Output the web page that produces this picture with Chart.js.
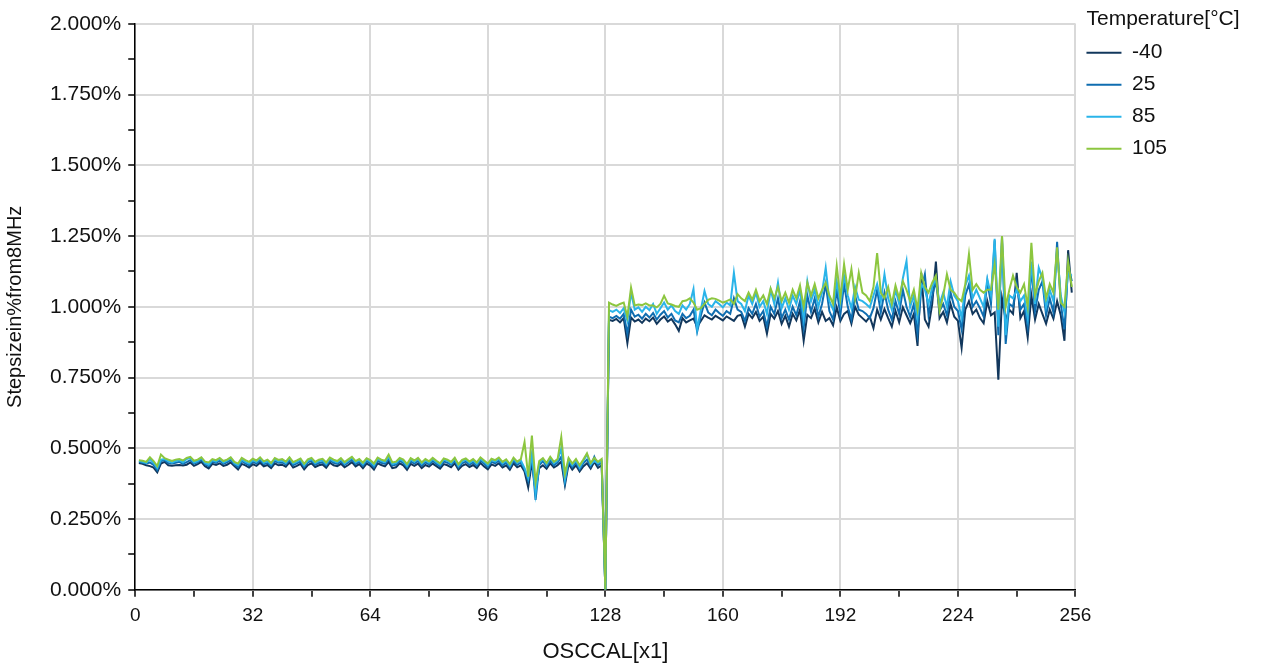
<!DOCTYPE html>
<html>
<head>
<meta charset="utf-8">
<title>OSCCAL step size</title>
<script src="https://cdn.jsdelivr.net/npm/chart.js@4.4.0/dist/chart.umd.min.js"></script>
<style>
  html, body { margin: 0; padding: 0; background: #fff; }
  #wrap { width: 1267px; height: 665px; }
</style>
</head>
<body>
<div id="wrap"><canvas id="chart" width="1267" height="665"></canvas></div>
<script>
'use strict';

const temperatures = ['-40', '25', '85', '105'];
const legendTitle = 'Temperature[°C]';
const lineColors = ['#12375c', '#0f6db0', '#2ab4e9', '#8cc63f'];

const xTickLabels = [0, 32, 64, 96, 128, 160, 192, 224, 256];
const yTickLabels = [0, 0.25, 0.5, 0.75, 1, 1.25, 1.5, 1.75, 2];

// step size in % from 8MHz, OSCCAL 1..127 (low range)
const lowM40 = [
  0.448, 0.445, 0.440, 0.437, 0.432, 0.415, 0.446, 0.452, 0.440, 0.438,
  0.440, 0.441, 0.439, 0.442, 0.450, 0.438, 0.444, 0.452, 0.437, 0.429,
  0.445, 0.441, 0.447, 0.438, 0.442, 0.450, 0.437, 0.425, 0.445, 0.440,
  0.432, 0.444, 0.438, 0.449, 0.436, 0.441, 0.430, 0.447, 0.440, 0.442,
  0.435, 0.450, 0.432, 0.438, 0.445, 0.426, 0.441, 0.447, 0.434, 0.440,
  0.443, 0.431, 0.449, 0.440, 0.437, 0.445, 0.433, 0.441, 0.451, 0.436,
  0.444, 0.430, 0.446, 0.439, 0.425, 0.447, 0.441, 0.436, 0.452, 0.430,
  0.433, 0.447, 0.440, 0.424, 0.445, 0.438, 0.446, 0.430, 0.441, 0.435,
  0.446, 0.437, 0.428, 0.444, 0.440, 0.433, 0.447, 0.425, 0.438, 0.444,
  0.434, 0.441, 0.430, 0.448, 0.436, 0.426, 0.443, 0.438, 0.447, 0.432,
  0.440, 0.424, 0.447, 0.433, 0.440, 0.418, 0.362, 0.450, 0.350, 0.430,
  0.440, 0.428, 0.447, 0.432, 0.440, 0.453, 0.370, 0.445, 0.425, 0.440,
  0.418, 0.436, 0.447, 0.428, 0.452, 0.431, 0.440
];
const low25 = [
  0.452, 0.449, 0.446, 0.450, 0.441, 0.423, 0.455, 0.458, 0.447, 0.446,
  0.449, 0.452, 0.445, 0.451, 0.458, 0.446, 0.450, 0.460, 0.444, 0.437,
  0.452, 0.448, 0.456, 0.445, 0.450, 0.458, 0.443, 0.433, 0.455, 0.447,
  0.440, 0.452, 0.446, 0.457, 0.444, 0.448, 0.437, 0.455, 0.449, 0.450,
  0.443, 0.458, 0.440, 0.447, 0.453, 0.434, 0.450, 0.456, 0.442, 0.448,
  0.451, 0.439, 0.457, 0.449, 0.445, 0.454, 0.441, 0.450, 0.460, 0.444,
  0.452, 0.438, 0.455, 0.447, 0.433, 0.456, 0.449, 0.445, 0.462, 0.439,
  0.442, 0.456, 0.448, 0.432, 0.454, 0.446, 0.455, 0.439, 0.450, 0.443,
  0.455, 0.445, 0.436, 0.453, 0.449, 0.441, 0.456, 0.432, 0.447, 0.453,
  0.442, 0.450, 0.438, 0.457, 0.445, 0.434, 0.452, 0.447, 0.456, 0.440,
  0.449, 0.432, 0.456, 0.441, 0.450, 0.425, 0.385, 0.470, 0.318, 0.440,
  0.455, 0.436, 0.458, 0.440, 0.450, 0.470, 0.380, 0.455, 0.433, 0.450,
  0.425, 0.447, 0.460, 0.436, 0.470, 0.440, 0.450
];
const low85 = [
  0.456, 0.452, 0.448, 0.462, 0.448, 0.430, 0.460, 0.462, 0.455, 0.449,
  0.455, 0.458, 0.450, 0.462, 0.466, 0.450, 0.455, 0.466, 0.448, 0.442,
  0.458, 0.453, 0.463, 0.450, 0.456, 0.466, 0.447, 0.440, 0.460, 0.452,
  0.446, 0.458, 0.452, 0.465, 0.449, 0.455, 0.443, 0.462, 0.454, 0.457,
  0.448, 0.465, 0.446, 0.452, 0.460, 0.440, 0.456, 0.462, 0.447, 0.455,
  0.458, 0.445, 0.463, 0.455, 0.450, 0.461, 0.446, 0.456, 0.467, 0.450,
  0.458, 0.444, 0.461, 0.453, 0.440, 0.463, 0.455, 0.451, 0.470, 0.445,
  0.448, 0.462, 0.455, 0.438, 0.461, 0.452, 0.462, 0.445, 0.457, 0.449,
  0.462, 0.451, 0.442, 0.460, 0.456, 0.447, 0.463, 0.438, 0.454, 0.460,
  0.448, 0.457, 0.445, 0.464, 0.452, 0.440, 0.459, 0.453, 0.463, 0.447,
  0.456, 0.438, 0.463, 0.448, 0.457, 0.430, 0.395, 0.480, 0.340, 0.448,
  0.462, 0.443, 0.466, 0.447, 0.457, 0.500, 0.390, 0.462, 0.440, 0.457,
  0.432, 0.455, 0.478, 0.442, 0.455, 0.447, 0.456
];
const low105 = [
  0.458, 0.456, 0.452, 0.468, 0.455, 0.437, 0.478, 0.465, 0.460, 0.455,
  0.460, 0.462, 0.457, 0.466, 0.470, 0.456, 0.460, 0.468, 0.453, 0.450,
  0.462, 0.458, 0.466, 0.455, 0.460, 0.468, 0.452, 0.446, 0.466, 0.458,
  0.452, 0.463, 0.457, 0.468, 0.454, 0.460, 0.448, 0.466, 0.459, 0.462,
  0.453, 0.468, 0.451, 0.457, 0.464, 0.445, 0.461, 0.466, 0.452, 0.460,
  0.463, 0.450, 0.467, 0.460, 0.455, 0.465, 0.451, 0.461, 0.470, 0.455,
  0.462, 0.449, 0.465, 0.458, 0.446, 0.467, 0.460, 0.456, 0.478, 0.450,
  0.453, 0.466, 0.460, 0.444, 0.465, 0.457, 0.466, 0.450, 0.462, 0.454,
  0.466, 0.456, 0.447, 0.464, 0.460, 0.452, 0.467, 0.444, 0.459, 0.464,
  0.453, 0.462, 0.450, 0.468, 0.457, 0.446, 0.463, 0.458, 0.467, 0.452,
  0.461, 0.444, 0.467, 0.453, 0.462, 0.522, 0.400, 0.545, 0.380, 0.455,
  0.465, 0.448, 0.470, 0.452, 0.462, 0.540, 0.410, 0.466, 0.446, 0.462,
  0.440, 0.460, 0.482, 0.448, 0.466, 0.452, 0.462
];

// OSCCAL 128: range switch, no step
const switchValue = 0;

// step size in % from 8MHz, OSCCAL 129..255 (high range)
const highM40 = [
  0.954, 0.950, 0.957, 0.945, 0.960, 0.872, 0.962, 0.948, 0.955, 0.943,
  0.958, 0.949, 0.962, 0.940, 0.955, 0.966, 0.948, 0.957, 0.938, 0.915,
  0.960, 0.945, 0.952, 0.958, 0.930, 0.950, 0.970, 0.962, 0.955, 0.968,
  0.960, 0.952, 0.966, 0.958, 0.950, 0.968, 0.972, 0.930, 0.975, 0.960,
  0.982, 0.950, 0.965, 0.905, 0.975, 0.958, 0.985, 0.940, 0.968, 0.930,
  0.975, 0.952, 0.990, 0.880, 0.972, 0.960, 0.993, 0.945, 0.982, 0.950,
  0.960, 0.935, 0.998, 0.950, 0.975, 0.985, 0.940, 1.000, 0.972, 0.960,
  0.948, 0.965, 0.925, 0.990, 0.955, 0.992, 0.960, 0.930, 0.985, 0.945,
  0.998, 0.970, 0.942, 0.975, 0.862, 1.120, 0.955, 0.930, 1.010, 1.160,
  0.960, 0.982, 0.945, 1.010, 0.965, 0.950, 0.855, 0.990, 1.020, 0.975,
  0.990, 0.960, 0.942, 1.020, 0.970, 0.980, 0.742, 1.030, 0.955, 0.990,
  0.975, 1.120, 0.960, 0.985, 0.892, 1.040, 0.955, 1.010, 0.975, 0.940,
  0.990, 0.958, 1.020, 0.970, 0.880, 1.200, 1.050
];
const high25 = [
  0.965, 0.960, 0.968, 0.958, 0.975, 0.905, 0.990, 0.965, 0.972, 0.958,
  0.975, 0.962, 0.978, 0.955, 0.972, 0.985, 0.962, 0.975, 0.952, 0.945,
  0.975, 0.960, 0.968, 0.990, 0.912, 0.968, 1.015, 0.980, 0.970, 0.990,
  0.978, 0.968, 0.985, 0.975, 1.030, 0.990, 0.982, 0.950, 0.995, 0.975,
  1.010, 0.965, 0.985, 0.930, 1.000, 0.975, 1.030, 0.960, 0.990, 0.955,
  1.000, 0.970, 1.020, 0.925, 1.040, 0.982, 1.030, 0.965, 1.010, 1.080,
  0.985, 0.955, 1.060, 0.972, 1.080, 1.000, 0.955, 1.040, 0.990, 0.985,
  0.975, 0.960, 0.995, 1.060, 0.980, 1.050, 0.990, 0.955, 1.020, 0.975,
  1.060, 1.000, 0.965, 1.010, 0.905, 1.060, 1.115, 0.970, 1.040, 1.090,
  0.986, 1.010, 0.970, 1.050, 1.000, 0.985, 0.920, 1.040, 1.080, 1.000,
  1.020, 0.995, 0.965, 1.090, 1.010, 1.235, 0.900, 1.250, 0.869, 1.010,
  1.000, 1.080, 0.990, 1.010, 0.930, 1.140, 0.985, 1.060, 1.090, 0.970,
  1.030, 0.980, 1.230, 1.010, 0.920, 1.150, 1.090
];
const high85 = [
  0.988, 0.982, 0.990, 0.978, 0.995, 0.950, 1.050, 0.990, 0.998, 0.982,
  1.000, 0.988, 1.010, 0.975, 0.995, 1.015, 0.990, 1.005, 0.985, 0.975,
  1.005, 0.990, 1.010, 1.063, 0.920, 0.990, 1.056, 1.010, 1.000, 1.020,
  1.010, 0.998, 1.015, 1.005, 1.120, 1.020, 1.010, 0.985, 1.040, 1.010,
  1.050, 1.000, 1.020, 0.975, 1.060, 1.010, 1.085, 0.995, 1.030, 0.990,
  1.040, 1.010, 1.060, 0.960, 1.090, 1.020, 1.060, 1.000, 1.050, 1.138,
  1.020, 0.990, 1.090, 1.010, 1.110, 1.040, 0.995, 1.070, 1.025, 1.020,
  1.010, 0.998, 1.040, 1.080, 1.020, 1.115, 1.030, 0.990, 1.060, 1.010,
  1.100, 1.162, 1.000, 1.040, 0.960, 1.080, 1.060, 1.010, 1.070, 1.100,
  1.010, 1.050, 1.000, 1.090, 1.040, 1.020, 0.960, 1.075, 1.110, 1.030,
  1.060, 1.030, 1.000, 1.098, 1.040, 1.240, 0.930, 1.230, 0.900, 1.040,
  1.030, 1.060, 1.020, 1.040, 0.960, 1.160, 1.010, 1.138, 1.100, 1.000,
  1.060, 1.020, 1.200, 1.040, 0.980, 1.120, 1.110
];
const high105 = [
  1.015, 1.008, 1.003, 1.010, 1.015, 0.965, 1.068, 1.005, 1.008, 1.006,
  1.012, 1.005, 1.005, 0.998, 1.010, 1.039, 1.012, 1.008, 1.003, 1.000,
  1.020, 1.022, 1.030, 1.015, 0.990, 0.995, 1.010, 1.025, 1.030, 1.028,
  1.022, 1.015, 1.020, 1.026, 1.010, 1.045, 1.030, 1.020, 1.050, 1.025,
  1.060, 1.020, 1.040, 1.010, 1.065, 1.030, 1.070, 1.020, 1.050, 1.015,
  1.060, 1.030, 1.075, 1.000, 1.085, 1.040, 1.080, 1.030, 1.060, 1.085,
  1.040, 1.010, 1.144, 1.030, 1.150, 1.060, 1.133, 1.030, 1.120, 1.050,
  1.040, 1.020, 1.070, 1.190, 1.050, 1.030, 1.070, 1.010, 1.075, 1.030,
  1.090, 1.060, 1.020, 1.060, 0.990, 1.120, 1.070, 1.050, 1.085, 1.110,
  0.986, 1.040, 1.115, 1.060, 1.050, 1.030, 1.020, 1.080, 1.186, 1.060,
  1.080, 1.060, 1.050, 1.060, 1.060, 1.150, 0.990, 1.250, 1.000, 1.060,
  1.110, 1.070, 1.050, 1.080, 1.000, 1.226, 1.040, 1.090, 1.120, 1.030,
  1.080, 1.050, 1.210, 1.015, 1.000, 1.160, 1.070
];

const lowSeries = [lowM40, low25, low85, low105];
const highSeries = [highM40, high25, high85, high105];

const fontFamily = '"Liberation Sans", Arial, Helvetica, sans-serif';
const textColor = '#111';

// x = OSCCAL value, 1..255
function buildPoints(low, high) {
  const points = [];
  for (let i = 0; i < low.length; i++) {
    points.push({ x: i + 1, y: low[i] });
  }
  points.push({ x: low.length + 1, y: switchValue });
  for (let i = 0; i < high.length; i++) {
    points.push({ x: low.length + 2 + i, y: high[i] });
  }
  return points;
}

let datasets = [];
for (let i = 0; i < temperatures.length; i++) {
  datasets.push({
    label: temperatures[i],
    data: buildPoints(lowSeries[i], highSeries[i]),
    borderColor: lineColors[i],
    backgroundColor: lineColors[i],
    borderWidth: 2,
    pointRadius: 0,
    tension: 0,
    order: temperatures.length - 1 - i
  });
}

function isMajor(list, value) {
  return list.some(v => Math.abs(v - value) < 1e-9);
}

// legend heading, lined up with the legend lines (the built-in title
// is clipped to the narrow legend box)
const legendHeading = {
  id: 'legendHeading',
  afterDraw(chart) {
    const lg = chart.legend;
    const c = chart.ctx;
    c.save();
    c.font = '21px ' + fontFamily;
    c.fillStyle = textColor;
    c.textAlign = 'left';
    c.textBaseline = 'middle';
    c.fillText(legendTitle, lg.left + lg.options.labels.padding, lg.top + 19);
    c.restore();
  }
};

const ctx = document.getElementById('chart');
const myChart = new Chart(ctx, {
  type: 'line',
  data: { datasets: datasets },
  plugins: [legendHeading],
  options: {
    responsive: false,
    animation: false,
    layout: {
      padding: { left: 0, right: 90, top: 0, bottom: 0 }
    },
    plugins: {
      tooltip: { enabled: false },
      legend: {
        position: 'right',
        align: 'start',
        title: {
          display: true,
          text: '',
          font: { family: fontFamily, size: 21 },
          padding: { top: 5, bottom: 1 }
        },
        labels: {
          usePointStyle: true,
          pointStyle: 'line',
          pointStyleWidth: 35,
          color: textColor,
          padding: 11,
          font: { family: fontFamily, size: 21 },
          sort: (a, b) => a.datasetIndex - b.datasetIndex
        }
      }
    },
    scales: {
      x: {
        type: 'linear',
        min: 0,
        max: 256,
        border: { color: '#000', width: 1.5 },
        grid: {
          color: c => isMajor(xTickLabels, c.tick.value) ? '#d9d9d9' : 'rgba(0,0,0,0)',
          lineWidth: 2,
          tickColor: '#000',
          tickWidth: 1.5,
          tickLength: 7
        },
        ticks: {
          stepSize: 16,
          autoSkip: false,
          maxRotation: 0,
          padding: 8,
          color: textColor,
          font: { family: fontFamily, size: 19 },
          callback: v => isMajor(xTickLabels, v) ? String(v) : ''
        },
        title: {
          display: true,
          text: 'OSCCAL[x1]',
          color: textColor,
          font: { family: fontFamily, size: 22 },
          padding: { top: 3, bottom: 0 }
        }
      },
      y: {
        min: 0,
        max: 2,
        border: { color: '#000', width: 1.5 },
        grid: {
          color: c => isMajor(yTickLabels, c.tick.value) ? '#d9d9d9' : 'rgba(0,0,0,0)',
          lineWidth: 2,
          tickColor: '#000',
          tickWidth: 1.5,
          tickLength: 7
        },
        ticks: {
          stepSize: 0.125,
          autoSkip: false,
          padding: 7,
          color: textColor,
          font: { family: fontFamily, size: 21, lineHeight: 1.6 },
          callback: v => isMajor(yTickLabels, v) ? v.toFixed(3) + '%' : ''
        },
        title: {
          display: true,
          text: 'Stepsizein%from8MHz',
          color: textColor,
          font: { family: fontFamily, size: 20 },
          padding: { top: 3, bottom: 16 }
        }
      }
    }
  }
});
</script>
</body>
</html>
